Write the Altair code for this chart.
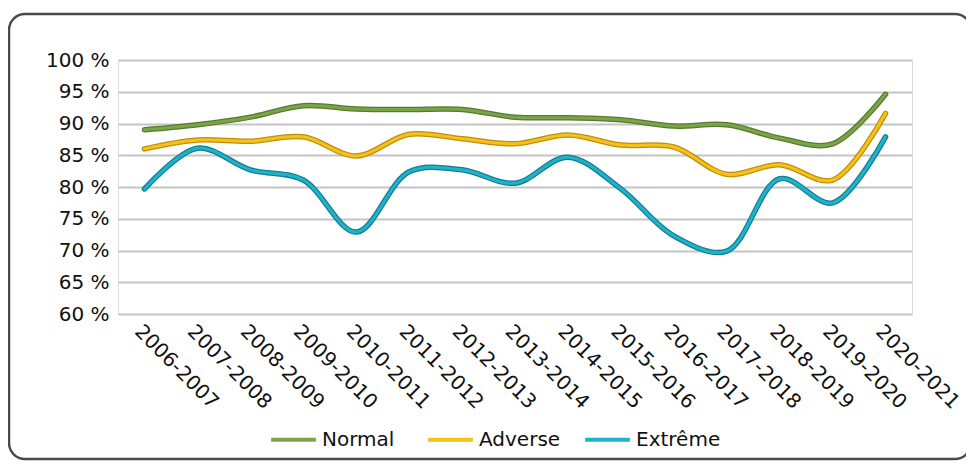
import altair as alt
import pandas as pd

years = ["2006-2007", "2007-2008", "2008-2009", "2009-2010", "2010-2011",
         "2011-2012", "2012-2013", "2013-2014", "2014-2015", "2015-2016",
         "2016-2017", "2017-2018", "2018-2019", "2019-2020", "2020-2021"]
normal = [89.0, 89.8, 91.0, 92.8, 92.3, 92.2, 92.2, 91.0, 90.9, 90.6,
          89.6, 89.8, 87.7, 86.8, 94.6]
adverse = [86.0, 87.4, 87.2, 87.9, 84.9, 88.3, 87.6, 86.8, 88.2, 86.6,
           86.3, 82.0, 83.5, 81.1, 91.6]
extreme = [79.7, 86.1, 82.7, 81.1, 72.9, 82.4, 82.7, 80.6, 84.7, 79.7,
           72.3, 69.9, 81.3, 77.5, 87.9]
series = ["Normal", "Adverse", "Extrême"]
y_ticks = [60, 65, 70, 75, 80, 85, 90, 95, 100]

rows = []
for name, vals in zip(series, [normal, adverse, extreme]):
    for yr, v in zip(years, vals):
        rows.append({"Année": yr, "Scénario": name, "Valeur": v})
df = pd.DataFrame(rows)

inner_colors = ["#7ba347", "#f4c21a", "#1fb3ca"]
edge_colors = ["#587a30", "#c08e0c", "#137e93"]

FONT = "DejaVu Sans"
W, H = 794, 254

x_enc = alt.X("Année:N", sort=years,
              scale=alt.Scale(type="point", padding=0.5),
              axis=alt.Axis(title=None, labelAngle=45, labelAlign="left",
                            labelBaseline="top", labelPadding=7,
                            labelFontSize=20, labelFont=FONT,
                            labelColor="#111111", domain=False, ticks=False,
                            grid=False))
y_enc = alt.Y("Valeur:Q",
              scale=alt.Scale(domain=[60, 100], nice=False, zero=False),
              axis=alt.Axis(title=None, values=y_ticks,
                            labelExpr="datum.value + ' %'",
                            labelFontSize=20, labelFont=FONT,
                            labelColor="#111111", labelPadding=9,
                            domain=False, ticks=False, grid=True,
                            gridColor="#c4c4c4", gridWidth=2))

base = alt.Chart(df)

outline = base.mark_line(interpolate="catmull-rom", strokeWidth=5.5,
                         strokeCap="round").encode(
    x=x_enc, y=y_enc,
    color=alt.Color("Scénario:N", sort=series,
                    scale=alt.Scale(domain=series, range=edge_colors),
                    legend=None),
    detail="Scénario:N",
)

inner = base.mark_line(interpolate="catmull-rom", strokeWidth=3,
                       strokeCap="round").encode(
    x=x_enc, y=y_enc,
    color=alt.Color("Scénario:N", sort=series,
                    scale=alt.Scale(domain=series, range=inner_colors),
                    legend=alt.Legend(title=None, orient="none",
                                      direction="horizontal",
                                      legendX=151, legendY=355,
                                      symbolType="stroke",
                                      symbolSize=2000, symbolStrokeWidth=4,
                                      labelFontSize=20, labelFont=FONT,
                                      labelColor="#111111", labelOffset=4,
                                      gridAlign="all",
                                      columnPadding=13)),
    detail="Scénario:N",
)

frame = alt.Chart(pd.DataFrame({"k": [0]})).mark_rect(
    fill=None, stroke="#4a4a4a", strokeWidth=2.5, cornerRadius=16
).encode(
    x=alt.value(-109), x2=alt.value(853),
    y=alt.value(-46), y2=alt.value(399),
)

chart = alt.layer(frame, outline, inner).resolve_scale(
    color="independent"
).properties(
    width=W, height=H,
    autosize=alt.AutoSizeParams(type="none"),
    padding={"left": 110, "top": 52, "right": 54, "bottom": 152},
).configure_view(stroke=None).configure(background="white")

chart.save("out.html", embed_options={"renderer": "svg", "actions": False})
